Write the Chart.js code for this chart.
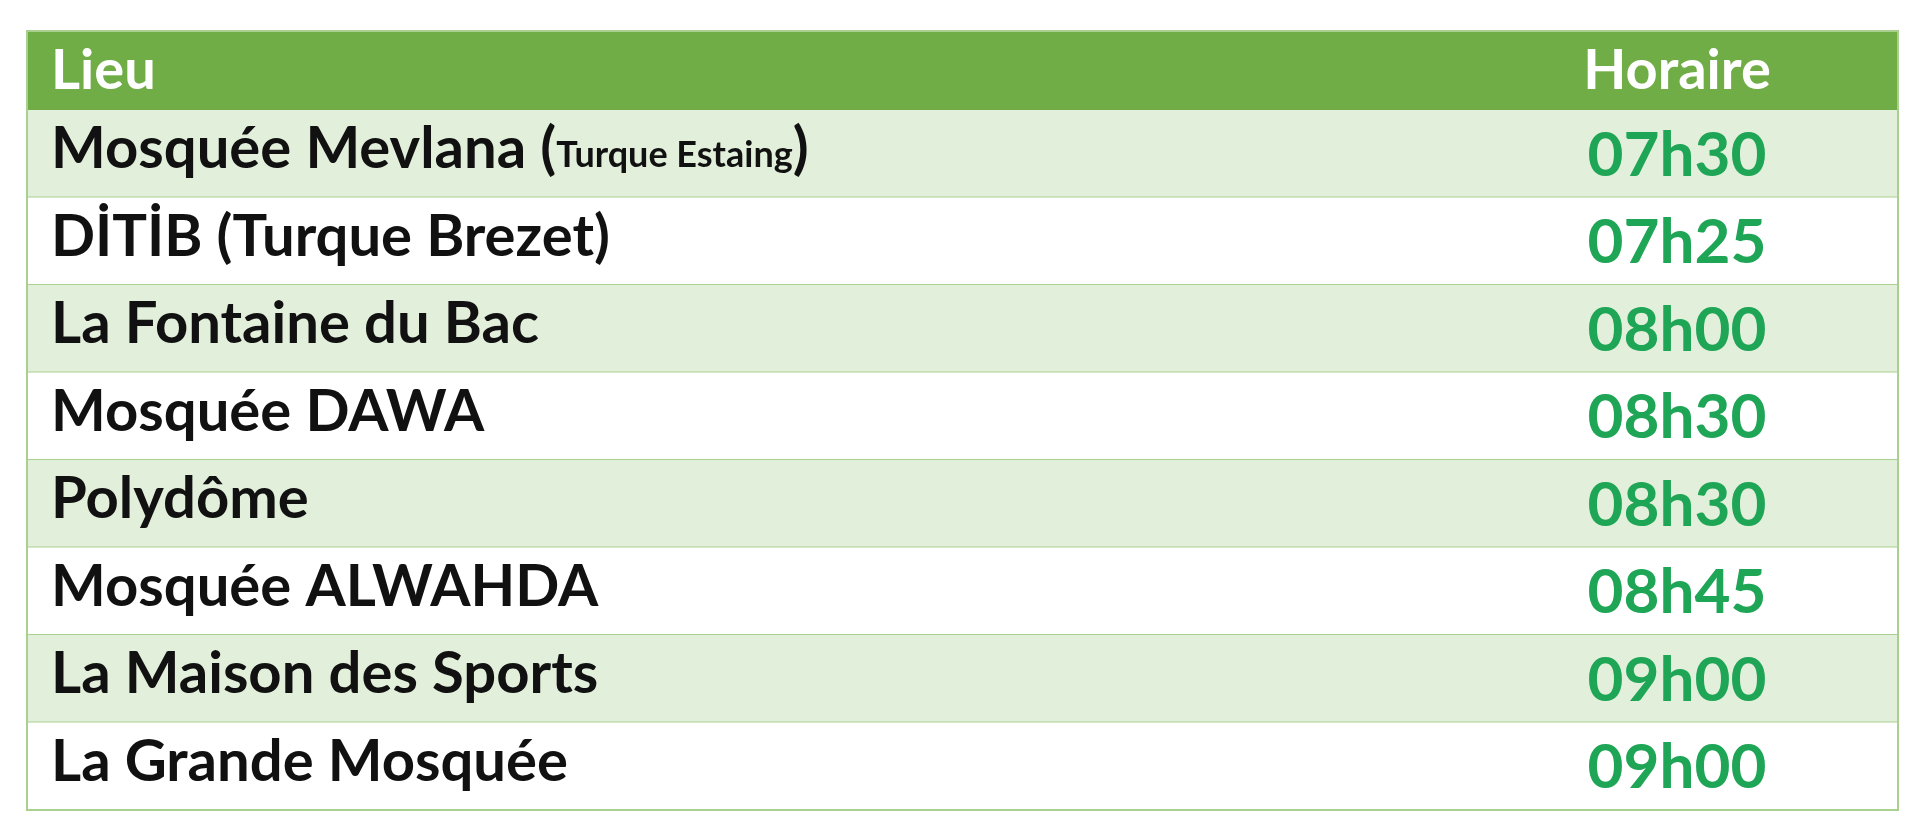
<!DOCTYPE html>
<html><head><meta charset="utf-8">
<script src="https://cdn.jsdelivr.net/npm/chart.js@4/dist/chart.umd.min.js"></script>
<style>html,body{margin:0;padding:0;background:#fff}#c{display:block}</style>
</head><body>
<div style="width:1920px;height:828px"><canvas id="c"></canvas></div>
<script>
const headers = ["Lieu", "Horaire"];
const places = ["Mosquée Mevlana (Turque Estaing)", "DİTİB (Turque Brezet)", "La Fontaine du Bac", "Mosquée DAWA", "Polydôme", "Mosquée ALWAHDA", "La Maison des Sports", "La Grande Mosquée"];
const smallParts = ["Turque Estaing", "", "", "", "", "", "", ""];
const times = ["07h30", "07h25", "08h00", "08h30", "08h30", "08h45", "09h00", "09h00"];
const minutes = times.map(t => parseInt(t.slice(0,2))*60 + parseInt(t.slice(3)));

const FONT = "Lato, 'Open Sans', sans-serif";
const tablePlugin = {
  id: 'table',
  beforeDatasetsDraw(chart) {
    const ctx = chart.ctx, y = chart.scales.y, a = chart.chartArea;
    const n = places.length;
    const band = (a.bottom - a.top) / n;
    const left = a.left, right = a.right, timeX = 1677;
    ctx.save();
    const hTop = 31, hBot = a.top;
    ctx.fillStyle = '#70ad47';
    ctx.fillRect(left, hTop, right - left, hBot - hTop);
    ctx.fillStyle = '#ffffff';
    ctx.font = 'bold 56px ' + FONT;
    ctx.textBaseline = 'middle';
    ctx.textAlign = 'left';
    ctx.fillText(headers[0], 51, (hTop + hBot) / 2);
    ctx.textAlign = 'center';
    ctx.fillText(headers[1], timeX, (hTop + hBot) / 2);
    for (let i = 0; i < n; i++) {
      const cy = y.getPixelForValue(i);
      const t = cy - band / 2;
      ctx.fillStyle = i % 2 === 0 ? '#e2efda' : '#ffffff';
      ctx.fillRect(left, t, right - left, band);
      ctx.strokeStyle = '#a9d08e';
      ctx.lineWidth = 2;
      ctx.beginPath(); ctx.moveTo(left, t + band); ctx.lineTo(right, t + band); ctx.stroke();
      ctx.fillStyle = '#111111';
      ctx.textAlign = 'left';
      const ty = cy - 4;
      const name = places[i], sp = smallParts[i];
      if (sp && name.includes('(' + sp + ')')) {
        const pre = name.slice(0, name.indexOf('(' + sp + ')') + 1);
        ctx.font = 'bold 58px ' + FONT;
        ctx.fillText(pre, 51, ty);
        let x = 51 + ctx.measureText(pre).width;
        ctx.font = 'bold 36px ' + FONT;
        ctx.fillText(sp, x, ty + 6);
        x += ctx.measureText(sp).width;
        ctx.font = 'bold 58px ' + FONT;
        ctx.fillText(')', x, ty);
      } else {
        ctx.font = 'bold 58px ' + FONT;
        ctx.fillText(name, 51, ty);
      }
      ctx.fillStyle = '#1ea556';
      ctx.textAlign = 'center';
      ctx.font = 'bold 62px ' + FONT;
      ctx.fillText(times[i], timeX, cy + 2);
    }
    ctx.strokeStyle = '#a9d08e';
    ctx.lineWidth = 2;
    ctx.strokeRect(left, hTop, right - left, a.bottom - hTop);
    ctx.restore();
  }
};

new Chart(document.getElementById('c'), {
  type: 'bar',
  data: { labels: places, datasets: [{ data: minutes, backgroundColor: 'rgba(0,0,0,0)' }] },
  options: {
    indexAxis: 'y', responsive: true, maintainAspectRatio: false, animation: false,
    layout: { padding: { top: 110, bottom: 18, left: 27, right: 22 } },
    plugins: { legend: { display: false }, tooltip: { enabled: false } },
    scales: {
      y: { type: 'category', display: false, offset: true },
      x: { display: false, min: 0 }
    }
  },
  plugins: [tablePlugin]
});
</script>
</body></html>
